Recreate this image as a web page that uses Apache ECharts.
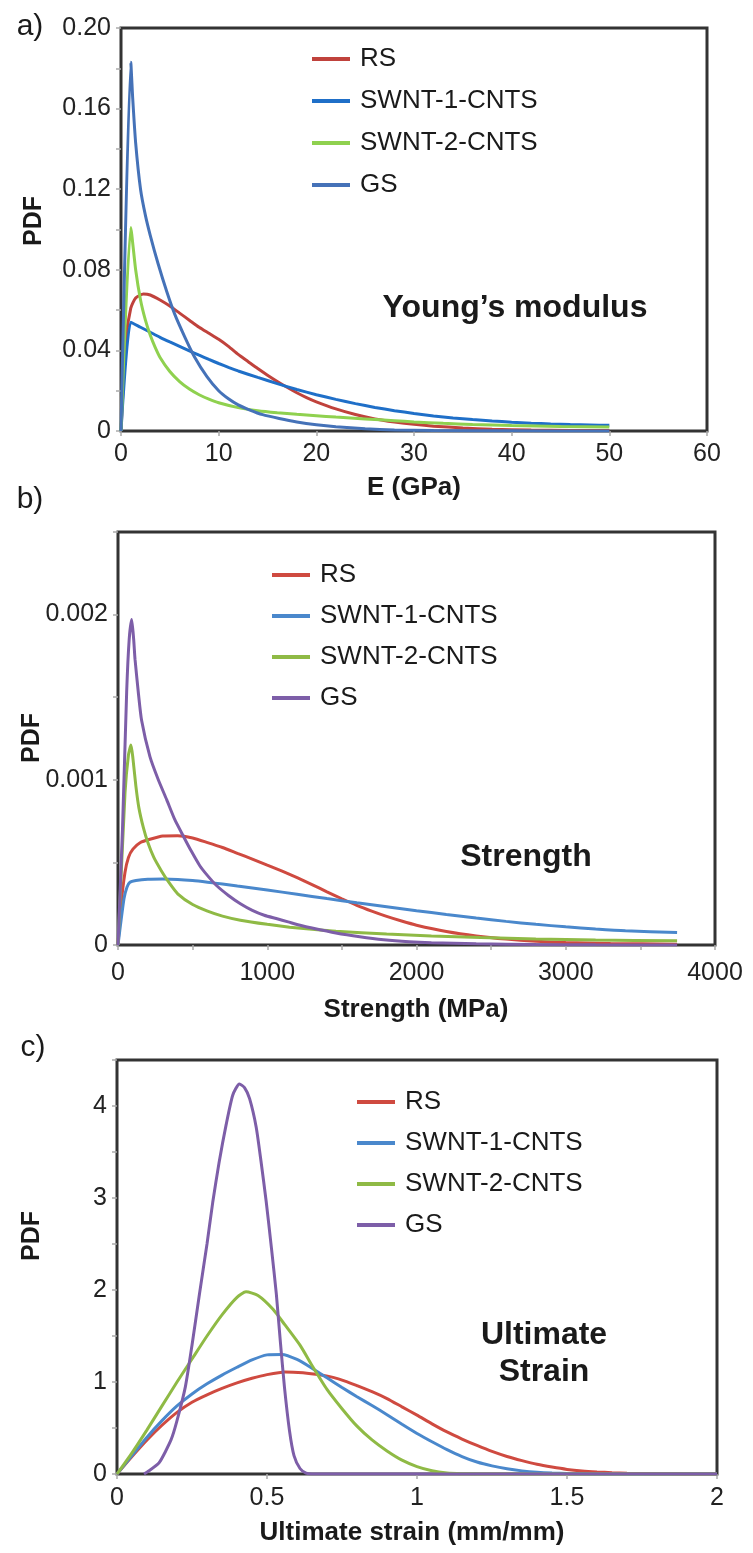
<!DOCTYPE html>
<html><head><meta charset="utf-8">
<script src="https://cdn.jsdelivr.net/npm/echarts@6/dist/echarts.min.js"></script>
<style>html,body{margin:0;padding:0;background:#fff}#c{width:753px;height:1553px}</style>
</head><body><div id="c"></div>
<script>
// ---------- Data (x, PDF) ----------
const seriesNames = ['RS', 'SWNT-1-CNTS', 'SWNT-2-CNTS', 'GS'];

// a) Young's modulus, E (GPa)
const youngRS = [[0,0],[0.5,0.045],[1,0.061],[1.5,0.066],[2.3,0.068],[3,0.0675],[4,0.065],[5,0.062],[6,0.0585],[7,0.055],[8,0.0515],[9,0.0485],[10,0.0455],[11,0.042],[12,0.038],[13,0.0345],[14,0.031],[15,0.0277],[16,0.0246],[17,0.0217],[18,0.019],[19,0.0166],[20,0.0145],[22,0.011],[24,0.0082],[26,0.006],[28,0.0045],[30,0.0033],[32,0.0024],[35,0.0015],[38,0.0009],[42,0.0005],[46,0.0003],[50,0.0002]];
const youngSWNT1 = [[0,0],[1,0.054],[2,0.0515],[3,0.049],[4,0.0465],[5,0.0442],[6,0.042],[7,0.0398],[8,0.0376],[9,0.0355],[10,0.0335],[11,0.0316],[12,0.0298],[14,0.0266],[16,0.0235],[18,0.0206],[20,0.018],[22,0.0157],[24,0.0136],[26,0.0117],[28,0.0101],[30,0.0087],[32,0.0075],[34,0.0065],[36,0.0057],[38,0.005],[40,0.0044],[42,0.0039],[44,0.0035],[46,0.0032],[48,0.003],[50,0.0028]];
const youngSWNT2 = [[0,0],[1,0.101],[1.5,0.080],[2,0.065],[2.5,0.055],[3,0.0475],[3.5,0.0415],[4,0.0365],[5,0.0295],[6,0.0245],[7,0.0208],[8,0.018],[9,0.0158],[10,0.014],[12,0.0116],[14,0.0101],[16,0.0091],[18,0.0083],[20,0.0076],[22,0.0069],[25,0.006],[28,0.0051],[30,0.0045],[33,0.0038],[36,0.0032],[40,0.0027],[45,0.0022],[50,0.002]];
const youngGS = [[0,0],[1,0.183],[1.2,0.165],[1.5,0.143],[2,0.12],[2.5,0.107],[3,0.097],[3.8,0.083],[4.7,0.069],[5.5,0.058],[6.5,0.047],[7.5,0.037],[8.8,0.027],[10,0.02],[11,0.016],[12,0.013],[13.2,0.0104],[14.5,0.0081],[16.2,0.0062],[18,0.0045],[20,0.0031],[22,0.0021],[25,0.0011],[28,0.0005],[32,0.0002],[40,0.0001],[50,0]];

// b) Strength (MPa)
const strengthRS = [[0,0],[20,0.00024],[47,0.00044],[70,0.00053],[100,0.00058],[150,0.00062],[214,0.00064],[300,0.00066],[400,0.000662],[500,0.000648],[600,0.00062],[700,0.00059],[800,0.000555],[900,0.00052],[1000,0.000483],[1100,0.000447],[1200,0.000408],[1300,0.000366],[1400,0.000322],[1500,0.00028],[1600,0.00024],[1700,0.000205],[1800,0.000173],[1900,0.000145],[2000,0.00012],[2200,0.000082],[2400,0.000055],[2600,0.000036],[2800,0.000023],[3000,0.000015],[3300,0.000009],[3746,0.000005]];
const strengthSWNT1 = [[0,0],[40,0.00028],[60,0.00035],[80,0.00038],[120,0.00039],[200,0.000398],[300,0.0004],[400,0.000397],[500,0.00039],[600,0.00038],[700,0.000369],[800,0.000357],[1000,0.000333],[1200,0.000307],[1400,0.000281],[1600,0.000256],[1800,0.000232],[2000,0.000208],[2200,0.000185],[2400,0.000163],[2600,0.000143],[2800,0.000125],[3000,0.00011],[3200,0.000097],[3400,0.000086],[3746,0.000075]];
const strengthSWNT2 = [[0,0],[47,0.00092],[70,0.00115],[87,0.00121],[100,0.00113],[120,0.00096],[140,0.00083],[170,0.00071],[200,0.00062],[240,0.00053],[290,0.00045],[340,0.00038],[400,0.00031],[500,0.000245],[600,0.000205],[700,0.000175],[820,0.00015],[1000,0.000125],[1150,0.000108],[1300,0.000095],[1460,0.000083],[1800,0.000066],[2100,0.000055],[2430,0.000045],[2800,0.000037],[3200,0.00003],[3746,0.000025]];
const strengthGS = [[0,0],[30,0.0007],[58,0.00153],[75,0.00185],[92,0.00197],[105,0.00185],[114,0.00173],[136,0.00153],[158,0.00136],[214,0.00114],[270,0.001],[326,0.00088],[380,0.00076],[437,0.00066],[490,0.00057],[548,0.00048],[600,0.00042],[660,0.00036],[740,0.0003],[820,0.00025],[900,0.00021],[980,0.00018],[1060,0.00016],[1140,0.00014],[1220,0.00012],[1300,0.000103],[1460,0.000073],[1620,0.00005],[1780,0.000032],[1950,0.00002],[2100,0.000014],[2400,0.000007],[2800,0.000003],[3200,0.000001],[3746,0]];

// c) Ultimate strain (mm/mm)
const strainRS = [[0,0],[0.05,0.19],[0.1,0.37],[0.15,0.53],[0.2,0.67],[0.25,0.78],[0.3,0.86],[0.35,0.93],[0.4,0.99],[0.45,1.04],[0.5,1.08],[0.56,1.11],[0.62,1.10],[0.68,1.075],[0.72,1.05],[0.76,1.01],[0.8,0.96],[0.85,0.895],[0.9,0.82],[0.95,0.73],[1.0,0.64],[1.05,0.545],[1.1,0.457],[1.15,0.38],[1.2,0.31],[1.25,0.245],[1.3,0.19],[1.35,0.145],[1.4,0.105],[1.45,0.075],[1.5,0.05],[1.55,0.033],[1.6,0.022],[1.65,0.014],[1.7,0.009],[1.8,0.003],[1.9,0.001],[2.0,0]];
const strainSWNT1 = [[0,0],[0.05,0.2],[0.1,0.4],[0.15,0.58],[0.2,0.74],[0.25,0.87],[0.3,0.98],[0.35,1.075],[0.4,1.16],[0.45,1.24],[0.5,1.295],[0.55,1.3],[0.6,1.245],[0.65,1.15],[0.7,1.045],[0.75,0.94],[0.8,0.84],[0.85,0.745],[0.9,0.645],[0.95,0.54],[1.0,0.44],[1.05,0.35],[1.1,0.265],[1.15,0.19],[1.2,0.13],[1.25,0.088],[1.3,0.056],[1.35,0.034],[1.4,0.019],[1.45,0.01],[1.5,0.005],[1.6,0.001],[1.7,0],[2.0,0]];
const strainSWNT2 = [[0,0],[0.05,0.23],[0.1,0.48],[0.15,0.74],[0.2,1.0],[0.25,1.25],[0.3,1.5],[0.35,1.73],[0.4,1.92],[0.43,1.98],[0.47,1.94],[0.52,1.79],[0.56,1.62],[0.61,1.4],[0.65,1.18],[0.7,0.92],[0.75,0.71],[0.8,0.52],[0.85,0.37],[0.9,0.25],[0.95,0.15],[1.0,0.08],[1.05,0.035],[1.1,0.012],[1.15,0.004],[1.2,0.001],[1.3,0],[2.0,0]];
const strainGS = [[0.09,0],[0.1,0.02],[0.14,0.12],[0.18,0.37],[0.2,0.58],[0.228,0.95],[0.25,1.4],[0.275,1.96],[0.3,2.5],[0.319,2.95],[0.34,3.38],[0.364,3.8],[0.386,4.12],[0.408,4.24],[0.425,4.2],[0.442,4.08],[0.464,3.77],[0.48,3.4],[0.497,2.97],[0.515,2.45],[0.531,1.96],[0.545,1.42],[0.558,0.95],[0.575,0.47],[0.59,0.2],[0.61,0.06],[0.63,0.01],[0.65,0],[2.0,0]];

// tick settings
const youngXTicks = {min:0, max:60, interval:10};
const youngYTicks = {min:0, max:0.2, interval:0.02};
const strengthXTicks = {min:0, max:4000, interval:500};
const strengthYTicks = {min:0, max:0.0025, interval:0.0005};
const strainXTicks = {min:0, max:2, interval:0.5};
const strainYTicks = {min:0, max:4.5, interval:0.5};

// ---------- Styling ----------
const FONT = '"Liberation Sans", Arial, Helvetica, sans-serif';
const colorsA = ['#c0423c', '#1f6fc8', '#8fd14f', '#4572b8'];
const colorsBC = ['#cf4a40', '#4a88cc', '#8fba45', '#7d5ea8'];
const panelData = [
  [youngRS, youngSWNT1, youngSWNT2, youngGS],
  [strengthRS, strengthSWNT1, strengthSWNT2, strengthGS],
  [strainRS, strainSWNT1, strainSWNT2, strainGS]
];
const panelColors = [colorsA, colorsBC, colorsBC];
const grids = [
  {left:121, right:46, top:28, height:403},
  {left:118, right:38, top:532, height:413},
  {left:117, right:36, top:1060, height:414}
];
const xTicks = [youngXTicks, strengthXTicks, strainXTicks];
const yTicks = [youngYTicks, strengthYTicks, strainYTicks];
const xLabelFmt = [
  v => String(v),
  v => (Math.round(v) % 1000 === 0 ? String(v) : ''),
  v => String(v)
];
const yLabelFmt = [
  v => { const k = Math.round(v*100); if (k % 4 !== 0) return ''; return k === 0 ? '0' : (k/100).toFixed(2); },
  v => { const k = Math.round(v*10000); if (k % 10 !== 0) return ''; return k === 0 ? '0' : (k/10000).toFixed(3); },
  v => (Math.abs(v - Math.round(v)) < 1e-9 ? String(Math.round(v)) : '')
];
const xLabelMargin = [11, 16, 12];
const legendPos = [
  {left:312, top:46, itemGap:16},
  {left:272, top:562, itemGap:15},
  {left:357, top:1089, itemGap:15}
];
const prefixes = ['a', 'b', 'c'];

const option = {
  animation: false,
  backgroundColor: '#fff',
  grid: grids.map(g => Object.assign({show:true, borderColor:'#333', borderWidth:3, backgroundColor:'transparent'}, g)),
  xAxis: grids.map((g, i) => Object.assign({
    type:'value', gridIndex:i,
    axisLine:{show:false}, splitLine:{show:false},
    axisTick:{show:true, length:5, lineStyle:{color:'#aaa', width:1.5}},
    axisLabel:{color:'#222', fontSize:25, fontFamily:FONT, margin:xLabelMargin[i], formatter:xLabelFmt[i], showMinLabel:true, showMaxLabel:true}
  }, xTicks[i])),
  yAxis: grids.map((g, i) => Object.assign({
    type:'value', gridIndex:i,
    axisLine:{show:false}, splitLine:{show:false},
    axisTick:{show:true, length:5, lineStyle:{color:'#aaa', width:1.5}},
    axisLabel:{color:'#222', fontSize:25, fontFamily:FONT, margin:10, formatter:yLabelFmt[i], showMinLabel:true, showMaxLabel:true}
  }, yTicks[i])),
  legend: legendPos.map((p, i) => ({
    orient:'vertical', left:p.left, top:p.top, itemGap:p.itemGap, padding:0,
    icon:'rect', itemWidth:38, itemHeight:4,
    data: seriesNames.map(n => prefixes[i] + '|' + n),
    formatter: name => name.split('|')[1],
    selectedMode:false,
    textStyle:{fontSize:26, lineHeight:26, color:'#1a1a1a', fontFamily:FONT, padding:[0,0,0,5]}
  })),
  series: [],
  graphic: []
};

panelData.forEach((arr, i) => {
  arr.forEach((d, j) => {
    option.series.push({
      type:'line', name: prefixes[i] + '|' + seriesNames[j],
      xAxisIndex:i, yAxisIndex:i, data:d,
      showSymbol:false, symbol:'none',
      smooth:0.2,
      color: panelColors[i][j],
      itemStyle:{color: panelColors[i][j]},
      lineStyle:{color: panelColors[i][j], width:3}
    });
  });
});

function txt(x, y, text, font, extra) {
  return Object.assign({
    type:'text', x:x, y:y, silent:true,
    style:{text:text, font:font, fill:'#1a1a1a', align:'center', verticalAlign:'middle', textAlign:'center', textVerticalAlign:'middle'}
  }, extra || {});
}
const bold26 = 'bold 26px ' + FONT;
const bold32 = 'bold 32px ' + FONT;
const norm30 = '30px ' + FONT;
option.graphic = [
  txt(30, 27, 'a)', norm30),
  txt(30, 500, 'b)', norm30),
  txt(33, 1048, 'c)', norm30),
  txt(34, 221, 'PDF', 'bold 25px ' + FONT, {rotation: Math.PI/2}),
  txt(32, 738, 'PDF', 'bold 25px ' + FONT, {rotation: Math.PI/2}),
  txt(32, 1236, 'PDF', 'bold 25px ' + FONT, {rotation: Math.PI/2}),
  txt(414, 488, 'E (GPa)', bold26),
  txt(416, 1010, 'Strength (MPa)', bold26),
  txt(412, 1533, 'Ultimate strain (mm/mm)', bold26),
  txt(515, 308, 'Young\u2019s modulus', bold32),
  txt(526, 857, 'Strength', bold32),
  txt(544, 1335, 'Ultimate', bold32),
  txt(544, 1372, 'Strain', bold32)
];

const chart = echarts.init(document.getElementById('c'), null, {renderer:'canvas', width:753, height:1553});
chart.setOption(option);
</script>
</body></html>
